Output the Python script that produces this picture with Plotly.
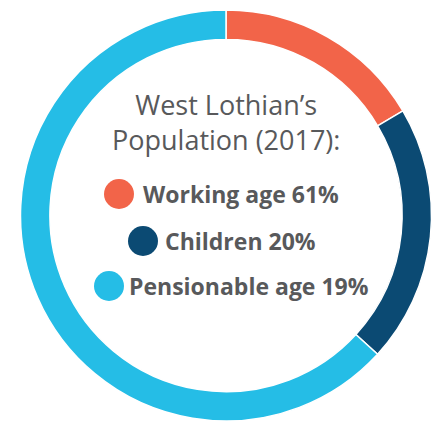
import plotly.graph_objects as go

# Ring segments (shares of the circle as drawn)
ring_labels = ["Segment A", "Segment B", "Segment C"]
ring_shares = [16.5, 20.3, 63.2]
ring_colors = ["#F26449", "#0B4A73", "#25BDE6"]

# Central legend
title_lines = ["West Lothian’s", "Population (2017):"]
legend_labels = ["Working age", "Children", "Pensionable age"]
legend_values = [61, 20, 19]
legend_colors = ["#F26449", "#0B4A73", "#25BDE6"]

W, H = 440, 421
TEXT = "#58595B"

fig = go.Figure()
fig.add_trace(go.Pie(
    labels=ring_labels,
    values=ring_shares,
    sort=False,
    direction="clockwise",
    rotation=0,
    hole=0.857,
    marker=dict(colors=ring_colors, line=dict(color="white", width=1.5)),
    textinfo="none",
    hoverinfo="skip",
    showlegend=False,
    domain=dict(x=[17 / W, 435 / W], y=[0, 1 - 10 / H]),
))

def px(x):
    return x / W

def py(y):
    return 1 - y / H

annotations = [dict(text="<br>".join(title_lines), x=px(226), y=py(122), xref="paper", yref="paper",
                    xanchor="center", yanchor="middle", showarrow=False, align="center",
                    font=dict(family="Open Sans", size=27, color=TEXT))]
shapes = []
rows_y = [194, 241, 286]
circle_x = [119, 143, 109]
text_x = [141, 163, 127]
r = 15
for lab, val, col, cy, cx, tx in zip(legend_labels, legend_values, legend_colors, rows_y, circle_x, text_x):
    shapes.append(dict(type="circle", xref="paper", yref="paper",
                       x0=px(cx - r), x1=px(cx + r), y0=py(cy + r), y1=py(cy - r),
                       fillcolor=col, line=dict(width=0)))
    annotations.append(dict(text=f"<b>{lab} {val}%</b>", x=px(tx), y=py(cy), xref="paper", yref="paper",
                            xanchor="left", yanchor="middle", showarrow=False,
                            font=dict(family="Open Sans", size=23, color=TEXT)))

fig.update_layout(
    width=W, height=H,
    margin=dict(l=0, r=0, t=0, b=0),
    paper_bgcolor="white", plot_bgcolor="white",
    annotations=annotations, shapes=shapes,
)
fig.write_html("out.html", config={"displayModeBar": False},
               post_script="document.body.style.margin='0';document.body.style.overflow='hidden';")
